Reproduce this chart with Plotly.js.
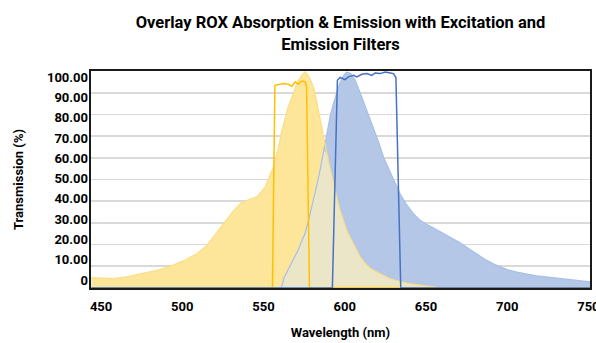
<!DOCTYPE html>
<html>
<head>
<meta charset="utf-8">
<script src="https://cdn.plot.ly/plotly-3.0.1.min.js"></script>
<style>html,body{margin:0;padding:0;background:#fff;}#chart{width:596px;height:343px;}</style>
</head>
<body>
<div id="chart"></div>
<script>
// Common wavelength grid (nm) for the two dye spectra
const wavelength = [444, 450, 457, 465, 474, 485, 494, 502, 509, 515, 519, 524, 528, 532, 536, 541, 546, 551, 556, 559, 561, 562.5, 565, 568, 571, 573.5, 575.5, 578, 581, 583, 585, 587, 589, 591, 593, 595, 597, 599, 601, 603.5, 606.5, 609.5, 612, 615, 618, 621, 624, 627, 630, 634, 638, 642, 646, 650, 655, 660, 665, 671, 676, 681, 686, 692, 700, 706, 712, 718, 724, 730, 737, 744, 751];
// ROX absorption (%)
const roxAbsorption = [4.8, 4.5, 4.3, 5.0, 6.6, 8.3, 10.5, 13, 15.8, 19.5, 23.5, 28.5, 32.5, 36, 39, 40.8, 42, 46.5, 55.5, 64, 71.5, 76, 83, 89, 95, 98, 99.6, 97.5, 92, 85, 77, 69, 62, 55, 48, 42, 36, 31, 27, 23, 18.5, 14.3, 11.8, 9.6, 8, 6.8, 5.6, 4.6, 3.8, 3, 2.3, 1.8, 1.4, 1.1, 0.5, 0, 0, 0, 0, 0, 0, 0, 0, 0, 0, 0, 0, 0, 0, 0, 0];
// ROX emission (%)
const roxEmission = [0, 0, 0, 0, 0, 0, 0, 0, 0, 0, 0, 0, 0, 0, 0, 0, 0, 0, 0, 0, 0, 4.5, 8, 12.5, 17, 21.5, 25, 32, 41, 48, 55, 63.5, 71.5, 79, 85, 90, 94.5, 97.5, 99.5, 99, 95.7, 90, 85, 79, 73.5, 67, 60, 55, 49.6, 43.5, 38.5, 34.5, 31.5, 29.5, 27.5, 25.5, 23.3, 20.8, 18.3, 15.8, 13.4, 10.9, 8.5, 7.3, 6.3, 5.6, 5.1, 4.6, 4.1, 3.5, 2.8];
// Excitation filter transmission
const excitationWl = [444, 555.5, 557, 560, 562.3, 565.3, 567.4, 569.5, 571.5, 573.5, 575.6, 576.5, 578.3, 751];
const excitationT = [0, 0, 93.4, 93.8, 94.2, 93.9, 93, 95, 93.9, 95.4, 95, 93, 0, 0];
// Emission filter transmission
const emissionWl = [444, 592.4, 595.5, 597.2, 600.2, 602.3, 605.4, 607.4, 610.5, 613.6, 616.7, 618.7, 621.8, 624.9, 628, 630, 631.5, 634.5, 751];
const emissionT = [0, 0, 95.7, 97, 96, 97.3, 98, 97.3, 98.5, 98.8, 98, 99.1, 98.8, 99.5, 99.1, 98.8, 97, 0, 0];
// Axis ticks
const xTicks = [450, 500, 550, 600, 650, 700, 750];
const yTickVals = [0, 10, 20, 30, 40, 50, 60, 70, 80, 90, 100];
const yTickText = ["0", "10.00", "20.00", "30.00", "40.00", "50.00", "60.00", "70.00", "80.00", "90.00", "100.00"];

const overlap = roxAbsorption.map((v, i) => Math.min(v, roxEmission[i]));

const FONT = 'Roboto, "Liberation Sans Narrow", "DejaVu Sans Condensed", sans-serif';

const traces = [
  {x: wavelength, y: roxAbsorption, type: 'scatter', mode: 'lines', fill: 'tozeroy',
   fillcolor: '#FDE59A', line: {width: 0, color: '#FDE59A'}, hoverinfo: 'skip'},
  {x: wavelength, y: roxEmission, type: 'scatter', mode: 'lines', fill: 'tozeroy',
   fillcolor: '#B4C7E7', line: {width: 0, color: '#B4C7E7'}, hoverinfo: 'skip'},
  {x: wavelength, y: overlap, type: 'scatter', mode: 'lines', fill: 'tozeroy',
   fillcolor: '#ECE6C8', line: {width: 0, color: '#ECE6C8'}, hoverinfo: 'skip'},
  {x: wavelength, y: roxEmission, type: 'scatter', mode: 'lines',
   line: {width: 1.2, color: '#A8BFE6'}},
  {x: wavelength, y: roxAbsorption, type: 'scatter', mode: 'lines',
   line: {width: 1.2, color: '#FBDD86'}},
  {x: excitationWl, y: excitationT, type: 'scatter', mode: 'lines',
   line: {width: 1.5, color: '#FFC000'}},
  {x: emissionWl, y: emissionT, type: 'scatter', mode: 'lines',
   line: {width: 1.5, color: '#4472C4'}},
  {x: [], y: [], type: 'scatter', yaxis: 'y2'}
];

const layout = {
  width: 596, height: 343,
  paper_bgcolor: '#ffffff', plot_bgcolor: '#ffffff',
  showlegend: false,
  margin: {l: 91, r: 6, t: 71, b: 55},
  font: {family: FONT, color: '#000', size: 13, weight: 700},
  title: {
    text: 'Overlay ROX Absorption &amp; Emission with Excitation and<br>Emission Filters',
    font: {family: FONT, size: 16.5, color: '#000', weight: 700},
    x: 0.5, xref: 'paper', xanchor: 'center',
    y: 0.918, yref: 'container', yanchor: 'top'
  },
  xaxis: {
    range: [443.8, 751], tickvals: xTicks, ticks: '', showgrid: false, zeroline: false,
    showline: true, mirror: true, linecolor: '#1a1a1a', linewidth: 1.8,
    tickfont: {family: FONT, size: 13, color: '#000', weight: 700},
    ticklabelstandoff: 6, ticklabeloverflow: 'allow',
    title: {text: 'Wavelength (nm)', font: {family: FONT, size: 13, color: '#000', weight: 700}, standoff: 14}
  },
  yaxis: {
    range: [0, 100], tickvals: yTickVals, showticklabels: false, ticks: '',
    showgrid: true, gridcolor: '#D9D9D9', gridwidth: 1.6, zeroline: false,
    showline: true, mirror: true, linecolor: '#1a1a1a', linewidth: 1.8
  },
  yaxis2: {
    overlaying: 'y', side: 'left', range: [-3.9, 103],
    tickvals: yTickVals, ticktext: yTickText, ticks: '', showgrid: false, zeroline: false,
    showline: false, ticklabelstandoff: 2,
    tickfont: {family: FONT, size: 13, color: '#000', weight: 700},
    title: {text: 'Transmission (%)', font: {family: FONT, size: 13, color: '#000', weight: 700}, standoff: 20}
  }
};

Plotly.newPlot('chart', traces, layout, {staticPlot: true, displayModeBar: false});
</script>
</body>
</html>
